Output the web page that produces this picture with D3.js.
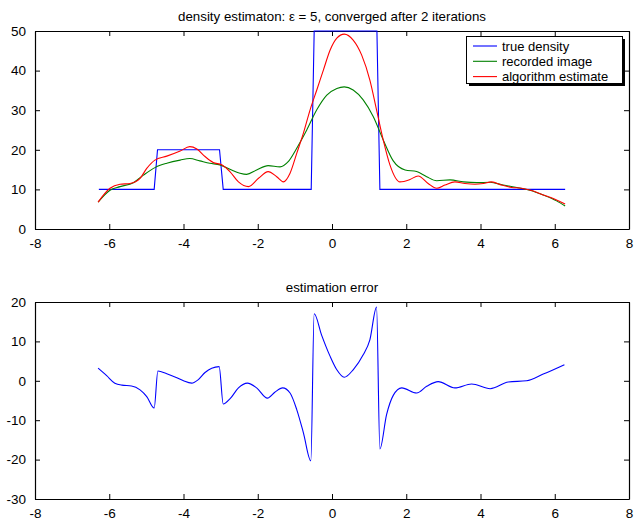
<!DOCTYPE html>
<html>
<head>
<meta charset="utf-8">
<script src="https://d3js.org/d3.v7.min.js"></script>
<style>
  body { margin: 0; background: #fff; }
  svg text { font-family: "Liberation Sans", Arial, Helvetica, sans-serif; fill: #000; }
</style>
</head>
<body>
<div id="chart"></div>
<script>
// canvas size
var w = 636, h = 522;

// x ticks (shared) and y ticks for each panel
var xTicks = [-8, -6, -4, -2, 0, 2, 4, 6, 8];
var yTicksTop = [0, 10, 20, 30, 40, 50];
var yTicksBot = [-30, -20, -10, 0, 10, 20];

// true density (piecewise steps)
var trueX = [-6.28, -4.79, -4.70, -3.03, -2.93, -0.56, -0.48, 1.21, 1.29, 6.28];
var trueY = [10, 10, 20, 20, 10, 10, 50, 50, 10, 10];

// recorded image (green)
var recX = [-6.30, -5.98, -5.71, -5.35, -5.08, -4.77, -4.45, -4.09, -3.83, -3.56, -3.29, -3.02, -2.75, -2.48, -2.30,
            -2.03, -1.72, -1.40, -1.18, -0.95, -0.68, -0.41, -0.14, 0.13, 0.33, 0.57, 0.84, 1.11, 1.38, 1.65,
            1.97, 2.28, 2.55, 2.82, 3.18, 3.54, 3.90, 4.26, 4.61, 4.98, 5.33, 5.69, 6.05, 6.28];
var recY = [6.8, 9.8, 10.7, 11.7, 13.6, 15.5, 16.6, 17.4, 17.8, 17.2, 16.6, 16.2, 15.1, 14.1, 13.8,
            14.9, 16.0, 15.7, 17.0, 20.4, 25.0, 30.1, 33.8, 35.5, 35.9, 35.1, 32.6, 28.4, 22.5, 17.2,
            14.9, 14.5, 13.2, 12.2, 12.4, 11.9, 11.7, 11.8, 11.1, 10.5, 9.8, 8.6, 7.1, 5.8];

// algorithm estimate (red)
var estX = [-6.30, -5.98, -5.71, -5.44, -5.17, -4.99, -4.77, -4.45, -4.09, -3.83, -3.64, -3.42, -3.20, -2.97, -2.75,
            -2.52, -2.25, -1.98, -1.72, -1.49, -1.31, -1.13, -0.95, -0.77, -0.59, -0.41, -0.23, -0.05, 0.13, 0.33,
            0.57, 0.80, 1.02, 1.20, 1.38, 1.56, 1.83, 2.10, 2.32, 2.59, 2.82, 3.04, 3.31, 3.58, 3.85, 4.08, 4.30,
            4.57, 4.84, 5.11, 5.38, 5.69, 5.96, 6.28];
var estY = [6.8, 10.3, 11.3, 11.5, 12.8, 15.3, 17.4, 18.4, 19.7, 20.8, 20.2, 18.3, 16.8, 16.2, 14.5,
            11.9, 10.7, 12.8, 14.5, 13.2, 11.9, 14.1, 19.1, 24.2, 30.1, 35.1, 40.2, 45.2, 48.2, 49.2,
            47.7, 43.9, 37.6, 30.1, 22.5, 16.2, 11.9, 12.5, 13.4, 11.5, 10.3, 11.1, 11.9, 11.5, 11.3, 11.5, 11.9,
            11.1, 10.5, 10.3, 9.7, 8.6, 7.7, 6.3];

// estimation error (bottom panel)
var errX = [-6.30, -6.07, -5.85, -5.66, -5.40, -5.17, -4.99, -4.79, -4.69, -4.45, -4.18, -4.00, -3.78, -3.60, -3.42,
            -3.24, -3.04, -2.93, -2.75, -2.52, -2.28, -2.03, -1.74, -1.54, -1.33, -1.13, -0.95, -0.77, -0.57, -0.48,
            -0.28, -0.05, 0.13, 0.33, 0.57, 0.84, 1.02, 1.20, 1.29, 1.47, 1.65, 1.88, 2.28, 2.55, 2.86, 3.31,
            3.76, 4.26, 4.75, 5.24, 5.69, 6.26];
var errY = [3.2, 1.3, -0.6, -1.1, -1.3, -2.3, -4.0, -6.9, 2.5, 1.8, 0.8, 0.0, -0.6, 0.3, 2.1,
            3.2, 3.6, -5.9, -4.6, -1.8, -0.6, -1.8, -4.4, -2.9, -1.8, -3.1, -7.3, -13.2, -20.3, 17.0,
            11.6, 6.2, 2.8, 0.9, 2.8, 6.6, 10.4, 18.7, -17.3, -8.6, -3.7, -1.8, -3.1, -1.4, -0.2, -1.8,
            -0.8, -2.0, -0.3, 0.0, 1.7, 4.1];

var legendNames = ["true density", "recorded image", "algorithm estimate"];
var colors = ["#0000ff", "#008000", "#ff0000"];

var svg = d3.select("#chart").append("svg")
    .attr("width", w)
    .attr("height", h);

var left = 35, right = 629;

function zip(xs, ys) {
    return xs.map(function(x, i) { return [x, ys[i]]; });
}

// plain hyphen minus like the original
function fmt(d) { return String(d); }

// draws one boxed MATLAB-style axes, returns scales
function makeAxes(top, bottom, yDomain, yTicks, title) {
    var x = d3.scaleLinear().domain([-8, 8]).range([left, right]);
    var y = d3.scaleLinear().domain(yDomain).range([bottom, top]);
    var g = svg.append("g");

    // ticks inside on all four sides
    g.append("g").attr("transform", "translate(0," + bottom + ")")
        .call(d3.axisBottom(x).tickValues(xTicks).tickSizeInner(-5).tickSizeOuter(0).tickPadding(9).tickFormat(fmt));
    g.append("g").attr("transform", "translate(0," + top + ")")
        .call(d3.axisTop(x).tickValues(xTicks).tickSizeInner(-5).tickSizeOuter(0).tickFormat(""));
    g.append("g").attr("transform", "translate(" + left + ",0)")
        .call(d3.axisLeft(y).tickValues(yTicks).tickSizeInner(-5).tickSizeOuter(0).tickPadding(9).tickFormat(fmt));
    g.append("g").attr("transform", "translate(" + right + ",0)")
        .call(d3.axisRight(y).tickValues(yTicks).tickSizeInner(-5).tickSizeOuter(0).tickFormat(""));

    g.selectAll(".tick line").attr("stroke", "#000");
    g.selectAll(".domain").attr("stroke", "#000").attr("stroke-width", 1.2);
    g.selectAll(".tick text").style("font-size", "13.5px").attr("fill", "#000");

    svg.append("text")
        .attr("x", (left + right) / 2)
        .attr("y", top - 10)
        .attr("text-anchor", "middle")
        .style("font-size", "13.3px")
        .text(title);

    var clipId = "clip" + top;
    svg.append("clipPath").attr("id", clipId)
        .append("rect").attr("x", left).attr("y", top - 1)
        .attr("width", right - left).attr("height", bottom - top + 2);

    return {x: x, y: y, clip: "url(#" + clipId + ")"};
}

function drawLine(ax, pts, color, curve) {
    var line = d3.line()
        .x(function(d) { return ax.x(d[0]); })
        .y(function(d) { return ax.y(d[1]); })
        .curve(curve);
    svg.append("path")
        .datum(pts)
        .attr("clip-path", ax.clip)
        .attr("fill", "none")
        .attr("stroke", color)
        .attr("stroke-width", 1.1)
        .attr("d", line);
}

// top panel
var top1 = makeAxes(31, 229, [0, 50], yTicksTop, "density estimaton: \u03b5 = 5, converged after 2 iterations");
drawLine(top1, zip(trueX, trueY), colors[0], d3.curveLinear);
drawLine(top1, zip(recX, recY), colors[1], d3.curveMonotoneX);
drawLine(top1, zip(estX, estY), colors[2], d3.curveMonotoneX);

// legend with shadow
var lg = svg.append("g");
lg.append("rect").attr("x", 469).attr("y", 39).attr("width", 156).attr("height", 47).attr("fill", "#000");
lg.append("rect").attr("x", 466.5).attr("y", 36.5).attr("width", 156).attr("height", 47)
    .attr("fill", "#fff").attr("stroke", "#000").attr("stroke-width", 1);
legendNames.forEach(function(name, i) {
    var yy = 46 + i * 15.3;
    lg.append("line").attr("x1", 473).attr("x2", 497).attr("y1", yy).attr("y2", yy)
        .attr("stroke", colors[i]).attr("stroke-width", 1.1);
    lg.append("text").attr("x", 502).attr("y", yy + 4.5)
        .style("font-size", "13px").text(name);
});

// bottom panel
var bot = makeAxes(302, 499, [-30, 20], yTicksBot, "estimation error");
drawLine(bot, zip(errX, errY), colors[0], d3.curveMonotoneX);
</script>
</body>
</html>
